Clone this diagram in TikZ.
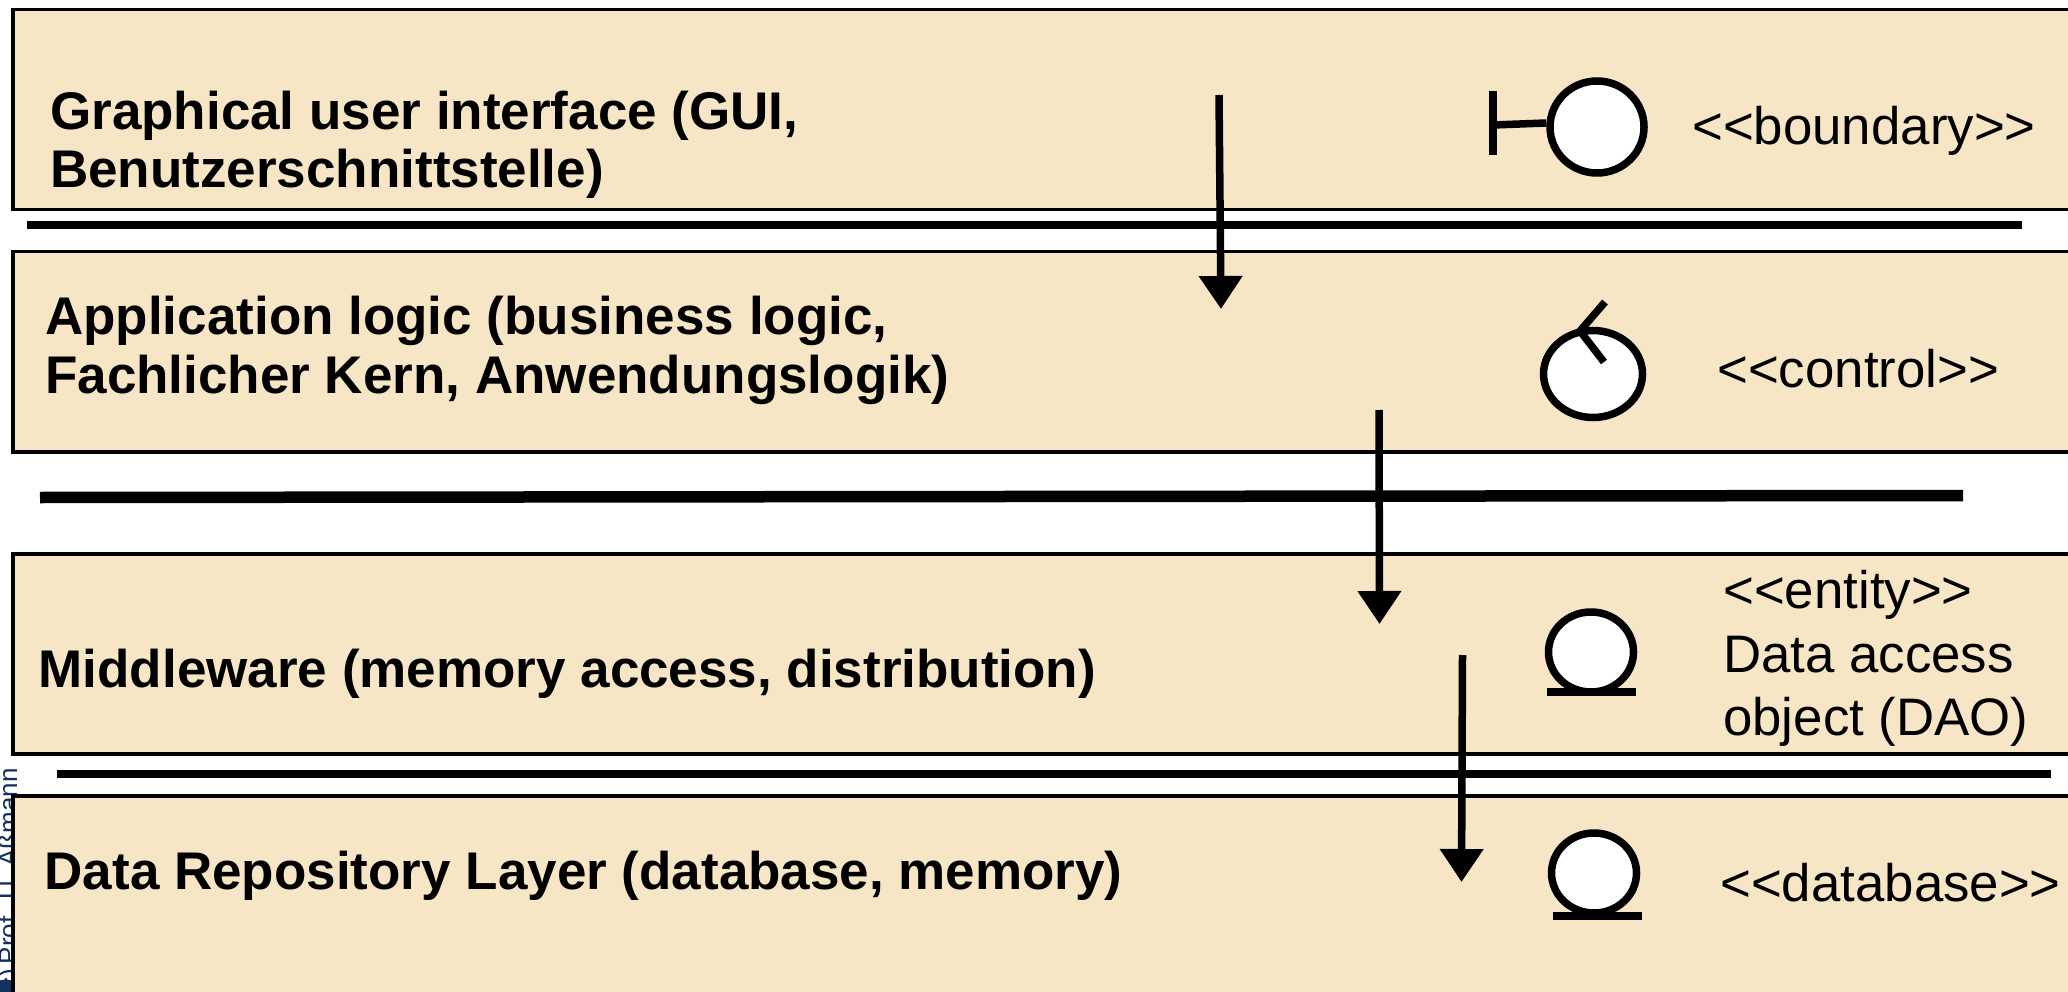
\documentclass[tikz,border=0pt]{standalone}
\usepackage{fontspec}
\setmainfont{Liberation Sans}
\usetikzlibrary{arrows.meta,shapes.geometric}
\definecolor{layerfill}{RGB}{247,230,198}
\definecolor{credit}{RGB}{20,50,95}
\tikzset{
  x=1pt,y=-1pt,
  layer/.style={draw=black,line width=3.5pt,fill=layerfill,rectangle,anchor=north west,minimum width=2200pt,inner sep=0pt},
  sepline/.style={line width=7.5pt,black},
  flow/.style={line width=7.5pt,-{Triangle[length=33pt,width=42pt,sep=0pt]}},
  title/.style={font=\fontsize{53}{60}\selectfont\bfseries,align=left,inner sep=0pt,anchor=base west},
  stereo/.style={font=\fontsize{52.8}{63}\selectfont,align=left,inner sep=0pt,anchor=base west},
  lifeline/.style={ellipse,draw=black,line width=7.5pt,fill=white,inner sep=0pt},
  glyph/.style={line width=7.5pt,black},
}
\begin{document}
\begin{tikzpicture}
\useasboundingbox (0,0) rectangle (2068,992);
\clip (0,0) rectangle (2068,992);
\fill[white] (0,0) rectangle (2068,992);
% credit behind the box
\node[rotate=90,anchor=base east,inner sep=0pt,text=credit,font=\fontsize{26}{26}\selectfont] (credit) at (17,768) {(c)\,Prof. U. Aßmann};
\fill[credit] (0,980) rectangle (12,992);
% layers
\node[layer,minimum height=200pt] (l1) at (11,8) {};
\node[layer,minimum height=200pt] (l2) at (11,250) {};
\node[layer,minimum height=200pt] (l3) at (11,552) {};
\node[layer,minimum height=300pt] (l4) at (11,794) {};
% separators
\coordinate (s1a) at (27,225); \coordinate (s1b) at (2022,225);
\coordinate (s2a) at (40,497.5); \coordinate (s2b) at (1963,495.5);
\coordinate (s3a) at (57,774); \coordinate (s3b) at (2051,774);
\draw[sepline] (s1a) -- (s1b);
\draw[sepline,line width=11.5pt] (s2a) -- (s2b);
\draw[sepline] (s3a) -- (s3b);
% arrows
\coordinate (a1a) at (1219,95); \coordinate (a1b) at (1221,309);
\coordinate (a2a) at (1379,410); \coordinate (a2b) at (1379.5,624);
\coordinate (a3a) at (1462.5,655); \coordinate (a3b) at (1461.5,882);
\draw[flow] (a1a) -- (a1b);
\draw[flow] (a2a) -- (a2b);
\draw[flow] (a3a) -- (a3b);
% titles
\node[title] (t1) at (50,129.5) {Graphical user interface (GUI,};
\node[title] (t1b) at (50,188) {Benutzerschnittstelle)};
\node[title] (t2) at (45,334) {Application logic (business logic,};
\node[title] (t2b) at (45,393) {Fachlicher Kern, Anwendungslogik)};
\node[title] (t3) at (38.5,687) {Middleware (memory access, distribution)};
\node[title] (t4) at (44.5,889) {Data Repository Layer (database, memory)};
% boundary
\node[lifeline,minimum width=94pt,minimum height=92pt] (bc) at (1597,127) {};
\coordinate (bt) at (1493,91); \coordinate (bb) at (1493,155); \coordinate (bm) at (1493,125);
\draw[glyph] (bt) -- (bb);
\draw[glyph] (bm) -- (bc.west |- 0,123);
% control
\node[lifeline,minimum width=99pt,minimum height=87pt] (cc) at (1593,374) {};
\coordinate (c1) at (1605,302); \coordinate (c2) at (1580,331); \coordinate (c3) at (1604,362);
\draw[glyph,miter limit=1] (c1) -- (c2) -- (c3);
% entity
\node[lifeline,minimum width=85pt,minimum height=80pt] (ec) at (1591,652) {};
\coordinate (e1) at (1547,692); \coordinate (e2) at (1636,692);
\draw[glyph] (e1) -- (e2);
% database
\node[lifeline,minimum width=85pt,minimum height=80pt] (dc) at (1594,873) {};
\coordinate (d1) at (1553,916); \coordinate (d2) at (1642,916);
\draw[glyph] (d1) -- (d2);
% stereotypes
\node[stereo] (s1) at (1692,144.5) {<{}<boundary>{}>};
\node[stereo] (s2) at (1717,387) {<{}<control>{}>};
\node[stereo] (s3) at (1723,608) {<{}<entity>{}>};
\node[stereo] (s3b) at (1723,672) {Data access};
\node[stereo] (s3c) at (1723,735) {object (DAO)};
\node[stereo] (s4) at (1720,901) {<{}<database>{}>};
\end{tikzpicture}
\end{document}
